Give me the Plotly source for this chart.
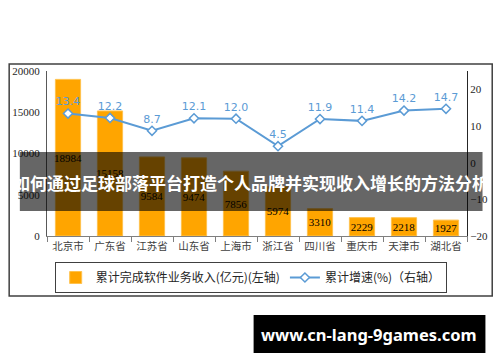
import plotly.graph_objects as go

categories = ["北京市", "广东省", "江苏省", "山东省", "上海市", "浙江省", "四川省", "重庆市", "天津市", "湖北省"]
revenue = [18984, 15158, 9584, 9474, 7856, 5974, 3310, 2229, 2218, 1927]
growth = [13.4, 12.2, 8.7, 12.1, 12.0, 4.5, 11.9, 11.4, 14.2, 14.7]
left_ticks = [0, 5000, 10000, 15000, 20000]
right_ticks = [-20, -10, 0, 10, 20]
bar_name = "累计完成软件业务收入(亿元)(左轴)"
line_name = "累计增速(%)（右轴）"
title_text = "如何通过足球部落平台打造个人品牌并实现收入增长的方法分析"
watermark = "www.cn-lang-9games.com"

W, H = 500, 362
L, R, T, B = 40, 27, 71, 126
PW, PH = W - L - R, H - T - B

def px(x):
    return (x - L) / PW

def py(y):
    return (H - B - y) / PH

fig = go.Figure()
fig.add_trace(go.Bar(
    x=categories, y=revenue, name=bar_name,
    marker=dict(color="#FFA500", line=dict(color="#FFC24D", width=1)),
    width=0.6,
    text=[str(v) for v in revenue], textposition="inside", insidetextanchor="middle",
    textangle=0, constraintext="none",
    textfont=dict(family="Liberation Serif", size=11, color="#000000"),
    yaxis="y",
))
fig.add_trace(go.Scatter(
    x=categories, y=growth, name=line_name, mode="lines+markers+text",
    line=dict(color="#5B9BD5", width=2),
    marker=dict(symbol="diamond", size=7, color="#FFFFFF", line=dict(color="#5B9BD5", width=1.5)),
    text=[f"{g:.1f}" for g in growth], textposition="top center",
    textfont=dict(family="DejaVu Sans", size=11, color="#5B9BD5"),
    yaxis="y2", cliponaxis=False,
))

axis_font = dict(family="Liberation Serif", size=11, color="#262626")
fig.update_layout(
    width=W, height=H,
    margin=dict(l=L, r=R, t=T, b=B, pad=0),
    paper_bgcolor="white", plot_bgcolor="white",
    showlegend=True,
    xaxis=dict(
        type="category", showgrid=False, showline=True, linecolor="#7F7F7F", linewidth=1,
        ticks="outside", tickson="boundaries", ticklen=5, tickcolor="#7F7F7F",
        tickfont=dict(family="Noto Sans CJK SC", size=10.5, color="#404040"),
        range=[-0.5, 9.5], fixedrange=True,
    ),
    yaxis=dict(
        range=[0, 20000], tickvals=left_ticks, tickformat="d", showgrid=False, zeroline=False,
        showline=True, linecolor="#595959", linewidth=1, ticks="",
        tickfont=axis_font, ticklabelstandoff=4,
    ),
    yaxis2=dict(
        range=[-20, 25], tickvals=right_ticks, tickformat="d", overlaying="y", side="right",
        showgrid=False, zeroline=False, showline=True, linecolor="#262626", linewidth=1,
        ticks="", tickfont=axis_font,
    ),
    legend=dict(
        orientation="h", x=px(250), xanchor="center", y=py(262), yanchor="top",
        bordercolor="#404040", borderwidth=1, bgcolor="white",
        font=dict(family="Noto Sans CJK SC", size=12, color="#262626"),
        itemwidth=30, tracegroupgap=0,
    ),
    bargap=0.4,
)

shapes = [
    dict(type="rect", xref="paper", yref="paper", x0=px(1), x1=px(499), y0=py(64), y1=py(296),
         line=dict(color="#404040", width=1.5), fillcolor="rgba(0,0,0,0)", layer="below"),
    dict(type="rect", xref="paper", yref="paper", x0=px(12), x1=px(489), y0=py(152), y1=py(211),
         line=dict(width=0), fillcolor="rgba(0,0,0,0.6)", layer="above"),
    dict(type="rect", xref="paper", yref="paper", x0=px(253), x1=px(492), y0=py(315), y1=py(353),
         line=dict(width=0), fillcolor="#000000", layer="above"),
]
fig.update_layout(shapes=shapes)

fig.add_annotation(
    text=title_text, xref="paper", yref="paper", x=px(250), y=py(182),
    xanchor="center", yanchor="middle", showarrow=False,
    font=dict(family="Noto Sans CJK SC", size=17, color="white", weight="bold"),
)
fig.add_annotation(
    text=watermark, xref="paper", yref="paper", x=px(372), y=py(334),
    xanchor="center", yanchor="middle", showarrow=False,
    font=dict(family="Noto Sans", size=16.5, color="white", weight="bold"),
)

fig.write_html("out.html", config={"displayModeBar": False},
               post_script="document.body.style.margin='0';")
